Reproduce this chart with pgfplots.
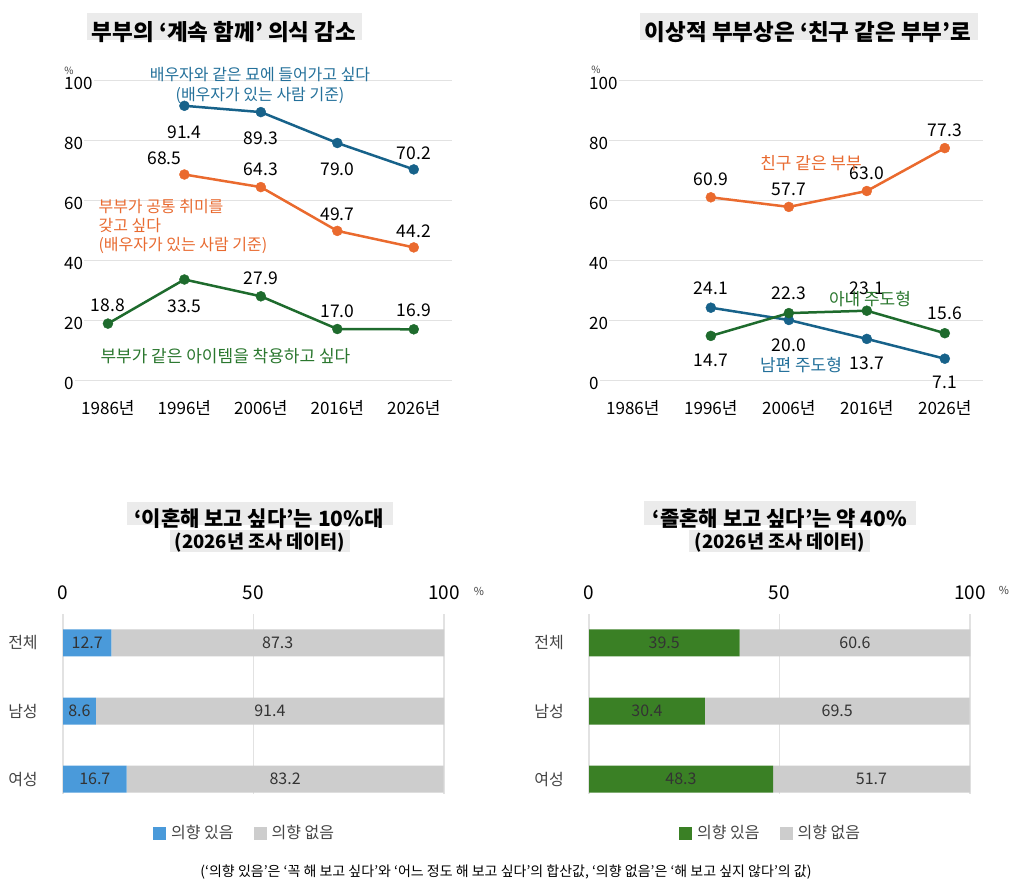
\documentclass[border=0pt]{standalone}
\usepackage{fontspec}
\setmainfont{Noto Sans CJK KR}
\usepackage{pgfplots}
\pgfplotsset{compat=1.18}

\definecolor{lineblue}{HTML}{17628A}
\definecolor{lineorange}{HTML}{EA6A2E}
\definecolor{linegreen}{HTML}{1E6B2D}
\definecolor{txtblue}{HTML}{23709A}
\definecolor{txtorange}{HTML}{E86A30}
\definecolor{txtgreen}{HTML}{2A772E}
\definecolor{barblue}{HTML}{4A9ADA}
\definecolor{bargreen}{HTML}{3A8025}
\definecolor{bargray}{HTML}{CDCDCD}
\definecolor{gridgray}{HTML}{E2E2E2}
\definecolor{titlebg}{HTML}{EBEBEB}
\definecolor{labtext}{HTML}{333333}
\definecolor{cattext}{HTML}{444444}

\pgfplotsset{
  trendaxis/.style={
    scale only axis, height=300pt, ymin=0, ymax=100,
    axis line style={draw=none}, major tick length=0pt,
    ytick={0,20,...,100}, ymajorgrids,
    grid style={gridgray, line width=1pt},
    xtick={0,...,4},
    xticklabels={1986년,1996년,2006년,2016년,2026년},
    tick label style={font=\fontsize{17}{20}\selectfont, text=black},
    yticklabel style={anchor=west, xshift=-9pt, yshift=-3pt, fill=white, inner sep=1pt},
    xticklabel style={anchor=center, yshift=-28pt},
    /pgf/number format/assume math mode=true,
    clip=false,
  },
  trendline/.style={line width=2.5pt, mark=*, mark size=5pt,
    mark options={solid, fill=#1, draw=#1, line width=0.4pt}, color=#1},
  barframe/.style={
    scale only axis, width=381pt, height=180pt,
    xmin=0, xmax=100, ymin=-0.426, ymax=2.22, y dir=reverse,
    clip=false,
  },
  baraxis/.style={
    barframe,
    xbar stacked, bar width=27pt,
    ytick={0,1,2}, yticklabels={전체,남성,여성},
    xtick={0,50,100}, xticklabel pos=upper,
    axis line style={draw=none}, major tick length=0pt,
    xmajorgrids, grid style={gridgray, line width=1.2pt},
    xticklabel style={font=\fontsize{19}{22}\selectfont, text=black, anchor=center, yshift=21pt},
    yticklabel style={font=\fontsize{16}{19}\selectfont, text=cattext, anchor=center, xshift=-40pt},
    /pgf/number format/assume math mode=true,
    legend columns=2,
    legend cell align=left,
    legend image code/.code={\fill[##1] (0pt,-6.5pt) rectangle (13pt,6.5pt);},
    legend style={at={(0.236,-0.217)}, anchor=west, draw=none, fill=none,
      inner sep=0pt, font=\fontsize{16}{19}\selectfont, text=cattext,
      /tikz/every odd column/.append style={column sep=3pt},
      /tikz/every even column/.append style={column sep=18pt}},
  },
  % same frame, no decorations: carries the segment values on top of the bars
  labelaxis/.style={barframe, hide axis},
}

% value label placed relative to its point: x, y, xshift, yshift
\newcommand{\vlab}[4]{\node[font=\fontsize{17.5}{20}\selectfont, text=black]
  at (axis cs:#1,#2) [xshift=#3pt, yshift=#4pt] {#2};}
% labels centred in the two segments of a stacked bar: row, first, second
\newcommand{\seglab}[3]{%
  \node[font=\fontsize{16}{19}\selectfont, text=labtext] at (axis cs:{#2/2},#1) {#2};
  \node[font=\fontsize{16}{19}\selectfont, text=labtext] at (axis cs:{#2+#3/2},#1) {#3};}

\begin{document}
\begin{tikzpicture}
\useasboundingbox (0pt,0pt) rectangle (1011pt,-888pt);

% ---------- titles ----------
\fill[titlebg] (87pt,-13pt) rectangle (362pt,-40pt);
\node[font=\bfseries\fontsize{22.5}{26}\selectfont] at (224pt,-32pt) {부부의 ‘계속 함께’ 의식 감소};
\fill[titlebg] (640pt,-13pt) rectangle (978pt,-40pt);
\node[font=\bfseries\fontsize{22.5}{26}\selectfont] at (808pt,-32pt) {이상적 부부상은 ‘친구 같은 부부’로};

\fill[titlebg] (127pt,-502pt) rectangle (393pt,-525pt);
\fill[titlebg] (170pt,-530pt) rectangle (350pt,-552pt);
\node[font=\bfseries\fontsize{21}{25}\selectfont] at (259pt,-519pt) {‘이혼해 보고 싶다’는 10\%대};
\node[font=\bfseries\fontsize{18.5}{22}\selectfont] at (260pt,-543pt) {(2026년 조사 데이터)};
\fill[titlebg] (644pt,-501pt) rectangle (916pt,-525pt);
\fill[titlebg] (689pt,-530pt) rectangle (870pt,-552pt);
\node[font=\bfseries\fontsize{21}{25}\selectfont] at (780pt,-519pt) {‘졸혼해 보고 싶다’는 약 40\%};
\node[font=\bfseries\fontsize{18.5}{22}\selectfont] at (780pt,-543pt) {(2026년 조사 데이터)};

% ---------- top left: lasting together ----------
\begin{axis}[trendaxis, at={(72pt,-380pt)}, anchor=south west,
  width=380pt, xmin=-0.47, xmax=4.5]
\addplot[trendline=lineblue] coordinates {(1,91.4) (2,89.3) (3,79.0) (4,70.2)};
\addplot[trendline=lineorange] coordinates {(1,68.5) (2,64.3) (3,49.7) (4,44.2)};
\addplot[trendline=linegreen] coordinates {(0,18.8) (1,33.5) (2,27.9) (3,17.0) (4,16.9)};
\vlab{1}{91.4}{0}{-26}
\vlab{2}{89.3}{0}{-26}
\vlab{3}{79.0}{0}{-26}
\vlab{4}{70.2}{0}{16}
\vlab{1}{68.5}{-20}{16.5}
\vlab{2}{64.3}{0}{18}
\vlab{3}{49.7}{0}{17}
\vlab{4}{44.2}{0}{16}
\vlab{0}{18.8}{0}{18.5}
\vlab{1}{33.5}{0}{-26.5}
\vlab{2}{27.9}{0}{18}
\vlab{3}{17.0}{0}{18}
\vlab{4}{16.9}{0}{19}
\end{axis}

% ---------- top right: ideal couple ----------
\begin{axis}[trendaxis, at={(597pt,-380pt)}, anchor=south west,
  width=386pt, xmin=-0.46, xmax=4.49]
\addplot[trendline=lineorange] coordinates {(1,60.9) (2,57.7) (3,63.0) (4,77.3)};
\addplot[trendline=lineblue] coordinates {(1,24.1) (2,20.0) (3,13.7) (4,7.1)};
\addplot[trendline=linegreen] coordinates {(1,14.7) (2,22.3) (3,23.1) (4,15.6)};
\vlab{1}{60.9}{0}{18}
\vlab{2}{57.7}{0}{18}
\vlab{3}{63.0}{0}{18}
\vlab{4}{77.3}{0}{18}
\vlab{1}{24.1}{0}{19}
\vlab{2}{20.0}{0}{-25}
\vlab{3}{13.7}{0}{-24}
\vlab{4}{7.1}{0}{-24}
\vlab{1}{14.7}{0}{-24}
\vlab{2}{22.3}{0}{20}
\vlab{3}{23.1}{0}{22}
\vlab{4}{15.6}{0}{20}
\end{axis}

% series names and units of the line charts
\node[text=txtblue, font=\fontsize{16}{19}\selectfont] at (260pt,-75pt) {배우자와 같은 묘에 들어가고 싶다};
\node[text=txtblue, font=\fontsize{16}{19}\selectfont] at (260pt,-95pt) {(배우자가 있는 사람 기준)};
\node[text=txtorange, anchor=west, font=\fontsize{16}{19}\selectfont] at (95pt,-207pt) {부부가 공통 취미를};
\node[text=txtorange, anchor=west, font=\fontsize{16}{19}\selectfont] at (95pt,-226pt) {갖고 싶다};
\node[text=txtorange, anchor=west, font=\fontsize{16}{19}\selectfont] at (95pt,-245pt) {(배우자가 있는 사람 기준)};
\node[text=txtgreen, anchor=west, font=\fontsize{17}{20}\selectfont] at (97pt,-356pt) {부부가 같은 아이템을 착용하고 싶다};
\node[text=txtorange, font=\fontsize{17}{20}\selectfont] at (811pt,-163pt) {친구 같은 부부};
\node[text=txtgreen, font=\fontsize{17}{20}\selectfont] at (870pt,-299pt) {아내 주도형};
\node[text=txtblue, font=\fontsize{17}{20}\selectfont] at (801pt,-365pt) {남편 주도형};
\node[font=\fontsize{10}{12}\selectfont, text=cattext] at (69pt,-71pt) {\%};
\node[font=\fontsize{10}{12}\selectfont, text=cattext] at (596pt,-70pt) {\%};

% ---------- bottom left: divorce ----------
\begin{axis}[baraxis, at={(63pt,-794pt)}, anchor=south west]
\addplot[fill=barblue, draw=none] coordinates {(12.7,0) (8.6,1) (16.7,2)};
\addplot[fill=bargray, draw=none] coordinates {(87.3,0) (91.4,1) (83.2,2)};
\legend{의향 있음, 의향 없음}
\end{axis}
\begin{axis}[labelaxis, at={(63pt,-794pt)}, anchor=south west]
\seglab{0}{12.7}{87.3}
\seglab{1}{8.6}{91.4}
\seglab{2}{16.7}{83.2}
\end{axis}

% ---------- bottom right: graduating from marriage ----------
\begin{axis}[baraxis, at={(589pt,-794pt)}, anchor=south west]
\addplot[fill=bargreen, draw=none] coordinates {(39.5,0) (30.4,1) (48.3,2)};
\addplot[fill=bargray, draw=none] coordinates {(60.6,0) (69.5,1) (51.7,2)};
\legend{의향 있음, 의향 없음}
\end{axis}
\begin{axis}[labelaxis, at={(589pt,-794pt)}, anchor=south west]
\seglab{0}{39.5}{60.6}
\seglab{1}{30.4}{69.5}
\seglab{2}{48.3}{51.7}
\end{axis}

\node[font=\fontsize{11}{13}\selectfont, text=cattext] at (479pt,-591pt) {\%};
\node[font=\fontsize{11}{13}\selectfont, text=cattext] at (1004pt,-590pt) {\%};

\node[font=\fontsize{14}{16}\selectfont] at (506pt,-872pt)
  {(‘의향 있음’은 ‘꼭 해 보고 싶다’와 ‘어느 정도 해 보고 싶다’의 합산값, ‘의향 없음’은 ‘해 보고 싶지 않다’의 값)};
\end{tikzpicture}
\end{document}
